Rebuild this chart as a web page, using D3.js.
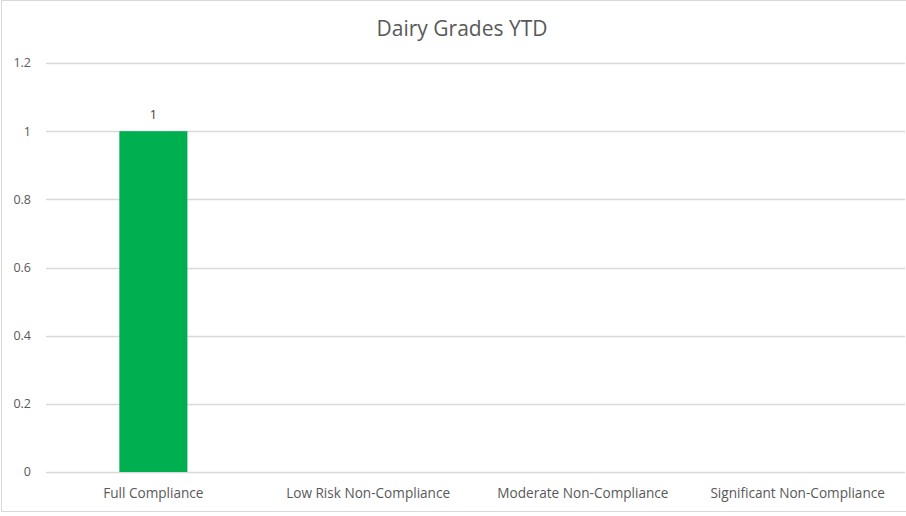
<!DOCTYPE html>
<html>
<head>
<meta charset="utf-8">
<script src="https://cdn.jsdelivr.net/npm/d3@7"></script>
<style>
  body { margin: 0; background: #fff; }
  text { font-family: "Open Sans", "Liberation Sans", sans-serif; fill: #595959; }
</style>
</head>
<body>
<svg id="chart" width="906" height="516"></svg>
<script>
const categories = ['Full Compliance', 'Low Risk Non-Compliance', 'Moderate Non-Compliance', 'Significant Non-Compliance']
const values = [1, null, null, null]
const yTicks = [0, 0.2, 0.4, 0.6, 0.8, 1, 1.2]

const svg = d3.select('#chart')
const margin = {top: 63, right: 1, bottom: 44, left: 46}
const width = 906
const height = 516

// outer chart border
svg.append('rect')
  .attr('x', 1.5).attr('y', 0.5)
  .attr('width', 906).attr('height', 511)
  .attr('fill', 'none')
  .attr('stroke', '#d9d9d9')

const x = d3.scaleBand()
  .domain(categories)
  .range([margin.left, width - margin.right])
  .paddingInner(0.683)
  .paddingOuter(0.683 / 2)

const y = d3.scaleLinear()
  .domain([0, 1.2])
  .range([472, margin.top])

// gridlines
svg.append('g')
  .selectAll('line')
  .data(yTicks)
  .enter()
  .append('line')
  .attr('x1', margin.left)
  .attr('x2', width - margin.right)
  .attr('y1', d => Math.round(y(d)) + 0.5)
  .attr('y2', d => Math.round(y(d)) + 0.5)
  .attr('stroke', '#d9d9d9')
  .attr('stroke-width', 1.3)

// y tick labels
svg.append('g')
  .selectAll('text')
  .data(yTicks)
  .enter()
  .append('text')
  .attr('x', 31)
  .attr('y', d => y(d))
  .attr('dy', '0.35em')
  .attr('text-anchor', 'end')
  .attr('font-size', 12.5)
  .text(d => d3.format('~g')(d))

// bars
const barData = categories.map((c, i) => ({cat: c, val: values[i]})).filter(d => d.val != null)
svg.append('g')
  .selectAll('rect')
  .data(barData)
  .enter()
  .append('rect')
  .attr('x', d => x(d.cat))
  .attr('width', x.bandwidth())
  .attr('y', d => y(d.val))
  .attr('height', d => y(0) - y(d.val))
  .attr('fill', '#00b050')

// data labels
svg.append('g')
  .selectAll('text')
  .data(barData)
  .enter()
  .append('text')
  .attr('x', d => x(d.cat) + x.bandwidth() / 2)
  .attr('y', d => y(d.val) - 12)
  .attr('text-anchor', 'middle')
  .attr('font-size', 12.5)
  .style('fill', '#404040')
  .text(d => d.val)

// category labels
svg.append('g')
  .selectAll('text')
  .data(categories)
  .enter()
  .append('text')
  .attr('x', d => x(d) + x.bandwidth() / 2)
  .attr('y', 493)
  .attr('dy', '0.35em')
  .attr('text-anchor', 'middle')
  .attr('font-size', 13.6)
  .text(d => d)

// title
svg.append('text')
  .attr('x', 462)
  .attr('y', 29)
  .attr('dy', '0.35em')
  .attr('text-anchor', 'middle')
  .attr('font-size', 21)
  .text('Dairy Grades YTD')
</script>
</body>
</html>
